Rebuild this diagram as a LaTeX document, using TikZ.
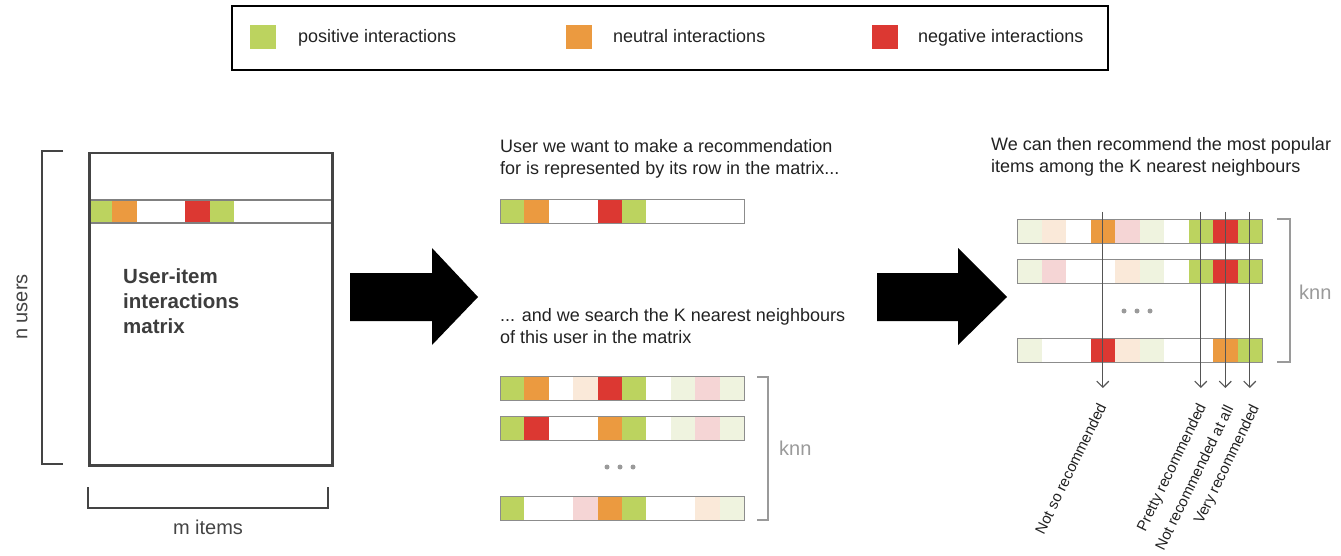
\documentclass[tikz,border=0pt]{standalone}
\usepackage{fontspec}
\setmainfont{Liberation Sans}
\usetikzlibrary{arrows.meta}
\definecolor{cG}{HTML}{BCD35F}
\definecolor{cO}{HTML}{EB9A40}
\definecolor{cR}{HTML}{DC3832}
\definecolor{cW}{HTML}{FFFFFF}
\definecolor{cLG}{HTML}{EFF3DF}
\definecolor{cLO}{HTML}{FAE9D9}
\definecolor{cLR}{HTML}{F5D5D5}
\definecolor{txt}{HTML}{222222}
\definecolor{dark}{HTML}{444444}
\definecolor{rowgray}{HTML}{8C8C8C}
\definecolor{knngray}{HTML}{9A9A9A}
\definecolor{lineg}{HTML}{555555}
\newcommand\mybody{\fontsize{18}{22}\selectfont}
\newcommand\mysmall{\fontsize{15}{18}\selectfont}
\newcommand\mybig{\fontsize{20}{24}\selectfont}
\newcommand\itemrow[5]{% name, x, y, cell width, colours
  \foreach \c [count=\i from 0] in {#5} {\fill[\c] ({#2+\i*#4},#3) rectangle ++(#4,24);}
  \node[rowbox, minimum width={10*#4*1pt}, anchor=north west] (#1) at (#2,#3) {};
}
\begin{document}
\begin{tikzpicture}[x=1pt,y=-1pt,
  rowbox/.style={draw=rowgray, line width=1.3pt, minimum height=24pt, inner sep=0pt},
  legsq/.style={minimum width=26pt, minimum height=24pt, inner sep=0pt},
  legtxt/.style={anchor=base west, inner sep=0pt, text=txt, font=\mybody},
  desc/.style={anchor=base west, inner sep=0pt, align=left, text=txt, font=\mybody},
  knnlbl/.style={inner sep=0pt, text=knngray, font=\mybig},
  brk/.style={draw=dark, line width=1.5pt},
  knnbrk/.style={draw=knngray, line width=1.5pt},
  bigarrow/.style={fill=black},
  dot/.style={circle, fill=knngray, minimum size=5pt, inner sep=0pt},
  recline/.style={draw=lineg, line width=1.2pt, -{Straight Barb[length=6pt,width=12pt]}},
  reclbl/.style={anchor=east, rotate=64, inner sep=0pt, text=txt, font=\mysmall}
]
\useasboundingbox (0,0) rectangle (1341,556);

% legend
\node[draw=black, line width=2pt, minimum width=876pt, minimum height=64pt, inner sep=0pt, anchor=north west] (legend) at (231,5) {};
\node[legsq, fill=cG] (sqG) at (263,37.5) {};
\node[legtxt] (tG) at (298,43) {positive interactions};
\node[legsq, fill=cO] (sqO) at (578.5,37.5) {};
\node[legtxt] (tO) at (613,43) {neutral interactions};
\node[legsq, fill=cR] (sqR) at (884.5,37.5) {};
\node[legtxt] (tR) at (918,43) {negative interactions};

% left matrix
\fill[cG] (88,200) rectangle (112.3,223);
\fill[cO] (112.3,200) rectangle (136.6,223);
\fill[cR] (185.2,200) rectangle (209.5,223);
\fill[cG] (209.5,200) rectangle (233.8,223);
\draw[draw=gray, line width=1.2pt] (88,200) -- (331,200) (88,223) -- (331,223);
\node[draw=dark, line width=2.5pt, minimum width=243pt, minimum height=312pt, inner sep=0pt, anchor=north west] (matrix) at (88,152) {};
\node[anchor=base west, inner sep=0pt, align=left, text=dark!90!black, font=\fontsize{20.5}{25}\selectfont\bfseries] (mtitle) at (123,333) {User-item\\interactions\\matrix};
\draw[brk] (63,151) -- (42,151) -- (42,464) -- (63,464);
\node[rotate=90, inner sep=0pt, text=dark, font=\mybig] (nusers) at (22,307) {n users};
\draw[brk] (88,487) -- (88,508) -- (328,508) -- (328,487);
\node[inner sep=0pt, text=dark, font=\mybig] (mitems) at (208,527) {m items};

% arrows
\fill[bigarrow] (350,273) -- (432,273) -- (432,248) -- (478,297) -- (432,345) -- (432,321) -- (350,321) -- cycle;
\fill[bigarrow] (877,273) -- (958,273) -- (958,248) -- (1007,297) -- (958,345) -- (958,321) -- (877,321) -- cycle;

% middle
\node[desc] (d1) at (500,175) {User we want to make a recommendation\\for is represented by its row in the matrix...};
\itemrow{u}{500}{199}{24.4}{cG,cO,cW,cW,cR,cG,cW,cW,cW,cW}
\node[desc] (d2) at (500,343) {... and we search the K nearest neighbours\\of this user in the matrix};
\itemrow{m1}{500}{376}{24.4}{cG,cO,cW,cLO,cR,cG,cW,cLG,cLR,cLG}
\itemrow{m2}{500}{416}{24.4}{cG,cR,cW,cW,cO,cG,cW,cLG,cLR,cLG}
\itemrow{m3}{500}{496}{24.4}{cG,cW,cW,cLR,cO,cG,cW,cW,cLO,cLG}
\node[dot] (md1) at (607,467) {};
\node[dot] (md2) at (620,467) {};
\node[dot] (md3) at (633,467) {};
\draw[knnbrk] (757,377) -- (768,377) -- (768,520) -- (757,520);
\node[knnlbl, anchor=west] (knn1) at (779,448) {knn};

% right
\node[desc] (d3) at (991,173) {We can then recommend the most popular\\items among the K nearest neighbours};
\itemrow{r1}{1017}{219}{24.5}{cLG,cLO,cW,cO,cLR,cLG,cW,cG,cR,cG}
\itemrow{r2}{1017}{259}{24.5}{cLG,cLR,cW,cW,cLO,cLG,cW,cG,cR,cG}
\itemrow{r3}{1017}{338}{24.5}{cLG,cW,cW,cR,cLO,cLG,cW,cW,cO,cG}
\node[dot] (rd1) at (1124,311) {};
\node[dot] (rd2) at (1137,311) {};
\node[dot] (rd3) at (1150,311) {};
\draw[knnbrk] (1277,219) -- (1290,219) -- (1290,362) -- (1277,362);
\node[knnlbl, anchor=west] (knn2) at (1299,292) {knn};

\coordinate (t3) at (1102.75,212);
\coordinate (b3) at (1102.75,388);
\coordinate (t7) at (1200.75,212);
\coordinate (b7) at (1200.75,388);
\coordinate (t8) at (1225.25,212);
\coordinate (b8) at (1225.25,388);
\coordinate (t9) at (1249.75,212);
\coordinate (b9) at (1249.75,388);
\draw[recline] (t3) -- (b3);
\draw[recline] (t7) -- (b7);
\draw[recline] (t8) -- (b8);
\draw[recline] (t9) -- (b9);
\node[reclbl] (l3) at (1102,404) {Not so recommended};
\node[reclbl] (l7) at (1203,405) {Pretty recommended};
\node[reclbl] (l8) at (1229,406) {Not recommended at all};
\node[reclbl] (l9) at (1256,406) {Very recommended};
\end{tikzpicture}
\end{document}
